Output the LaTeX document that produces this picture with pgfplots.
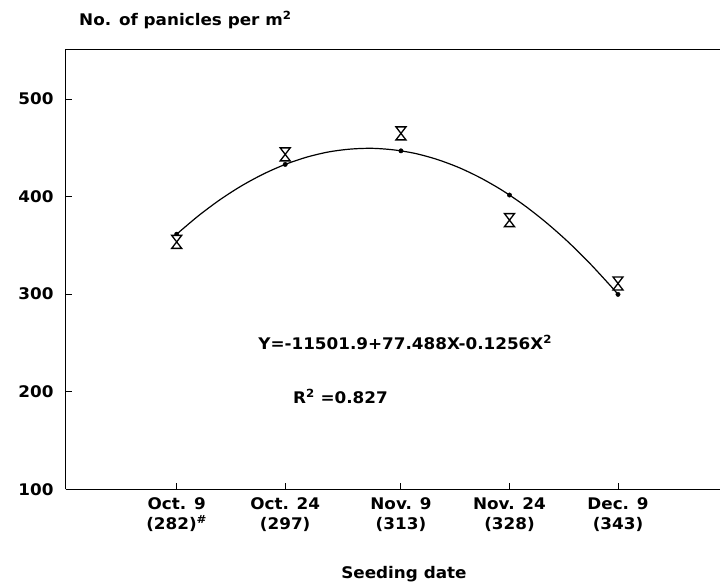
\documentclass[border=0pt]{standalone}
\usepackage{fontspec}
\setmainfont{DejaVu Sans}[FakeStretch=1.05]
\usepackage{pgfplots}
\pgfplotsset{compat=1.18}
\pgfdeclareplotmark{hourglass}{%
  \pgfpathmoveto{\pgfqpoint{-5pt}{6.5pt}}%
  \pgfpathlineto{\pgfqpoint{5pt}{6.5pt}}%
  \pgfpathlineto{\pgfqpoint{-5pt}{-6.5pt}}%
  \pgfpathlineto{\pgfqpoint{5pt}{-6.5pt}}%
  \pgfpathclose
  \pgfusepathqfillstroke
}
\begin{document}
\begin{tikzpicture}
\path[use as bounding box] (0,0) rectangle (720pt,588pt);
\begin{axis}[
  at={(65.7pt,98.7pt)}, anchor=south west,
  scale only axis, width=654.3pt, height=440pt,
  xmin=266.66, xmax=357.1, ymin=100, ymax=551,
  axis x line*=bottom, axis y line*=left,
  axis line style={line width=1.4pt},
  tick align=inside, major tick length=6pt,
  tick style={black, line width=1pt},
  xtick={282,297,313,328,343},
  xticklabels={{Oct. 9\\(282)\textsuperscript{\#}},{Oct. 24\\(297)},{Nov. 9\\(313)},{Nov. 24\\(328)},{Dec. 9\\(343)}},
  ytick={100,200,300,400,500},
  /pgf/number format/assume math mode=true,
  every tick label/.append style={font=\fontsize{16}{20}\selectfont\bfseries},
  xticklabel style={align=center, inner sep=0pt, yshift=-8pt},
  yticklabel style={inner sep=0pt, xshift=-12pt},
  xlabel={Seeding date},
  xlabel style={font=\fontsize{16}{18}\selectfont\bfseries, at={(rel axis cs:0.517,0)}, anchor=base, yshift=-89.4pt},
  ylabel={No. of panicles per m\textsuperscript{2}},
  ylabel style={font=\fontsize{16}{18}\selectfont\bfseries, rotate=-90, at={(rel axis cs:0,1)}, anchor=base west, xshift=10pt, yshift=23.3pt},
  clip=false,
]
\draw[line width=1.4pt] (rel axis cs:0,1) -- (rel axis cs:1,1);
% fitted curve Y = -11501.9 + 77.488X - 0.1256X^2
\addplot[black, line width=1.2pt, smooth, no markers] coordinates {
(282,361.5) (285,380.3) (288,396.9) (291,411.2) (294,423.2) (297,433.0)
(300,440.5) (303,445.8) (306,448.7) (309,449.5) (312,447.9) (315,444.2)
(318,438.1) (321,429.8) (324,419.2) (327,406.4) (330,391.3) (333,373.9)
(336,354.3) (339,332.4) (342,308.3) (343,299.8)};
% fitted values
\addplot[only marks, mark=*, mark size=2.2pt, black] coordinates {
(282,361.5) (297,433.0) (313,446.9) (328,401.6) (343,299.8)};
% observed values
\addplot[only marks, mark=hourglass, mark options={draw=black, fill=white, line width=1.3pt}] coordinates {
(282,353.6) (297,443.3) (313,464.8) (328,375.9) (343,311)};
\node[anchor=base west, font=\fontsize{16}{18}\selectfont\bfseries] at (axis cs:292.8,243.4) {Y=-11501.9+77.488X-0.1256X\textsuperscript{2}};
\node[anchor=base west, font=\fontsize{16}{18}\selectfont\bfseries] at (axis cs:297.6,188.1) {R\textsuperscript{2} =0.827};
\end{axis}
\end{tikzpicture}
\end{document}
